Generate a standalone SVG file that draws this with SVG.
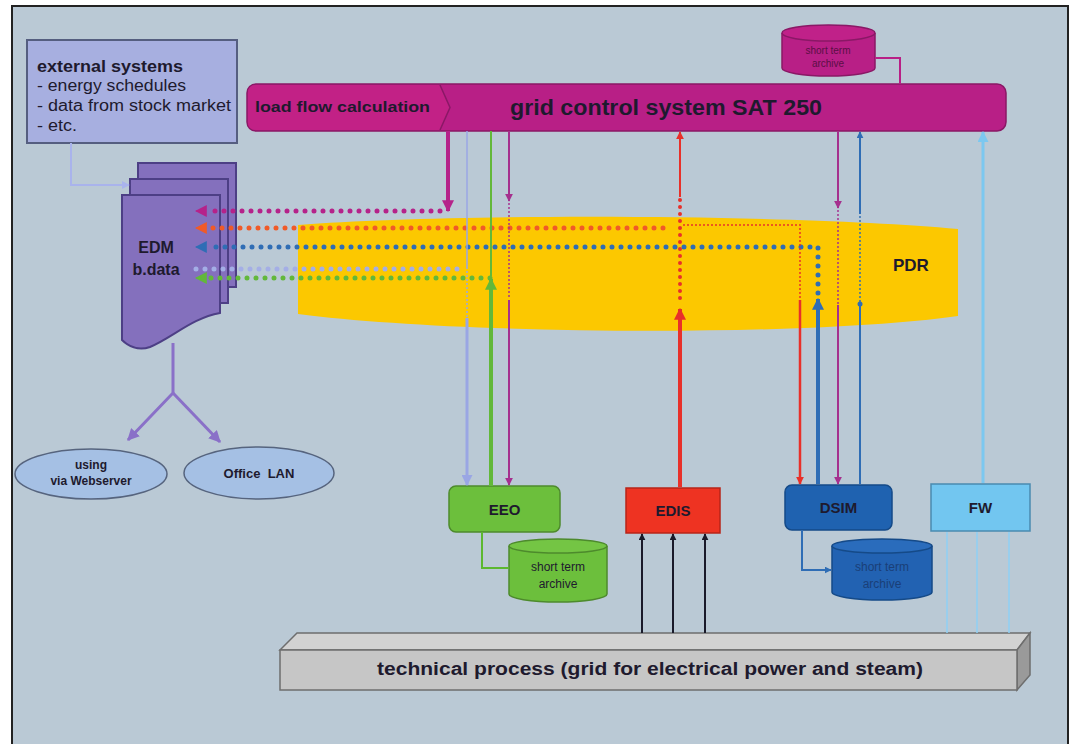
<svg xmlns="http://www.w3.org/2000/svg" width="1074" height="744" viewBox="0 0 1074 744">
<defs>
<style>
text{font-family:"Liberation Sans",Arial,sans-serif;font-weight:bold;fill:#1e1a2e}
.n{font-weight:normal}
.dot{fill:none;stroke-linecap:round;stroke-dasharray:0 9;stroke-width:5}
.fine{fill:none;stroke-linecap:round;stroke-dasharray:0 4;stroke-width:2}
.ln{fill:none}
</style>
<marker id="aMag" viewBox="0 0 10 10" refX="9" refY="5" markerWidth="12" markerHeight="12" markerUnits="userSpaceOnUse" orient="auto"><path d="M0,0 L10,5 L0,10 z" fill="#b5228a"/></marker>
<marker id="aMagS" viewBox="0 0 10 10" refX="9" refY="5" markerWidth="8" markerHeight="8" markerUnits="userSpaceOnUse" orient="auto"><path d="M0,0 L10,5 L0,10 z" fill="#a5308e"/></marker>
<marker id="aOr" viewBox="0 0 10 10" refX="9" refY="5" markerWidth="12" markerHeight="12" markerUnits="userSpaceOnUse" orient="auto"><path d="M0,0 L10,5 L0,10 z" fill="#f05a28"/></marker>
<marker id="aBlu" viewBox="0 0 10 10" refX="9" refY="5" markerWidth="12" markerHeight="12" markerUnits="userSpaceOnUse" orient="auto"><path d="M0,0 L10,5 L0,10 z" fill="#2f6db5"/></marker>
<marker id="aBluS" viewBox="0 0 10 10" refX="9" refY="5" markerWidth="7" markerHeight="7" markerUnits="userSpaceOnUse" orient="auto"><path d="M0,0 L10,5 L0,10 z" fill="#2f6db5"/></marker>
<marker id="aGrn" viewBox="0 0 10 10" refX="9" refY="5" markerWidth="12" markerHeight="12" markerUnits="userSpaceOnUse" orient="auto"><path d="M0,0 L10,5 L0,10 z" fill="#62b83a"/></marker>
<marker id="aLav" viewBox="0 0 10 10" refX="9" refY="5" markerWidth="11" markerHeight="11" markerUnits="userSpaceOnUse" orient="auto"><path d="M0,0 L10,5 L0,10 z" fill="#9aa6e4"/></marker>
<marker id="aRed" viewBox="0 0 10 10" refX="9" refY="5" markerWidth="12" markerHeight="12" markerUnits="userSpaceOnUse" orient="auto"><path d="M0,0 L10,5 L0,10 z" fill="#e8302a"/></marker>
<marker id="aRedS" viewBox="0 0 10 10" refX="9" refY="5" markerWidth="8" markerHeight="8" markerUnits="userSpaceOnUse" orient="auto"><path d="M0,0 L10,5 L0,10 z" fill="#e8302a"/></marker>
<marker id="aLb" viewBox="0 0 10 10" refX="9" refY="5" markerWidth="11" markerHeight="11" markerUnits="userSpaceOnUse" orient="auto"><path d="M0,0 L10,5 L0,10 z" fill="#7cc8f0"/></marker>
<marker id="aBlk" viewBox="0 0 10 10" refX="9" refY="5" markerWidth="7" markerHeight="7" markerUnits="userSpaceOnUse" orient="auto"><path d="M0,0 L10,5 L0,10 z" fill="#1a1a2a"/></marker>
<marker id="aPur" viewBox="0 0 10 10" refX="9" refY="5" markerWidth="12" markerHeight="12" markerUnits="userSpaceOnUse" orient="auto"><path d="M0,0 L10,5 L0,10 z" fill="#8a70c8"/></marker>
<marker id="aPale" viewBox="0 0 10 10" refX="9" refY="5" markerWidth="8" markerHeight="8" markerUnits="userSpaceOnUse" orient="auto"><path d="M0,0 L10,5 L0,10 z" fill="#a9b3ec"/></marker>
</defs>

<rect x="0" y="0" width="1074" height="744" fill="#ffffff"/>
<rect x="12" y="6" width="1056" height="760" fill="#bac9d5" stroke="#222" stroke-width="2"/>

<g id="pdr">
<path d="M298,225 C450,213 800,214 958,229 V316 C800,338 450,334 298,314 Z" fill="#fcc800"/>
<text x="893" y="271" font-size="17">PDR</text>
</g>

<g id="grid-control">
<rect x="247" y="84" width="759" height="47" rx="9" fill="#b81f86" stroke="#8a1866" stroke-width="1.5"/>
<path d="M256,85 H440 L450,107.5 L440,130 H256 Q248,130 248,122 V93 Q248,85 256,85 Z" fill="#c22186"/>
<polyline points="440,85 450,107.5 440,130" fill="none" stroke="#8a1866" stroke-width="1.5"/>
<text x="255" y="112" font-size="15" textLength="175" lengthAdjust="spacingAndGlyphs">load flow calculation</text>
<text x="510" y="115" font-size="22" textLength="312" lengthAdjust="spacingAndGlyphs">grid control system SAT 250</text>
</g>

<g id="archive-top">
<path d="M782,33 V68 A46.5,8 0 0 0 875,68 V33" fill="#b81f86" stroke="#8a1866" stroke-width="1.5"/>
<ellipse cx="828.5" cy="33" rx="46.5" ry="8" fill="#c02189" stroke="#8a1866" stroke-width="1.5"/>
<text x="828" y="54" font-size="10" text-anchor="middle" class="n" style="fill:#5a0f45">short term</text>
<text x="828" y="67" font-size="10" text-anchor="middle" class="n" style="fill:#5a0f45">archive</text>
</g>

<g id="external">
<rect x="27" y="40" width="210" height="103" fill="#a7afe0" stroke="#555e80" stroke-width="2"/>
<text x="37" y="72" font-size="16" textLength="146" lengthAdjust="spacingAndGlyphs">external systems</text>
<text x="37" y="91" font-size="16" class="n" textLength="149" lengthAdjust="spacingAndGlyphs">- energy schedules</text>
<text x="37" y="111" font-size="16" class="n" textLength="194" lengthAdjust="spacingAndGlyphs">- data from stock market</text>
<text x="37" y="131" font-size="16" class="n" textLength="40" lengthAdjust="spacingAndGlyphs">- etc.</text>
</g>

<g id="edm">
<rect x="138" y="163" width="98" height="124" fill="#8470bd" stroke="#4d3f85" stroke-width="2"/>
<rect x="130" y="179" width="98" height="124" fill="#8470bd" stroke="#4d3f85" stroke-width="2"/>
<path d="M122,195 H220 V313 C192,318 172,338 150,347 C138,351 128,346 122,340 Z" fill="#8470bd" stroke="#4d3f85" stroke-width="2"/>
<text x="156" y="253" font-size="16" text-anchor="middle">EDM</text>
<text x="156" y="275" font-size="16" text-anchor="middle">b.data</text>
</g>

<g id="webserver">
<ellipse cx="91" cy="474" rx="76" ry="25" fill="#a5c0e4" stroke="#56647e" stroke-width="1.5"/>
<text x="91" y="469" font-size="12" text-anchor="middle">using</text>
<text x="91" y="485" font-size="12" text-anchor="middle">via Webserver</text>
</g>
<g id="office-lan">
<ellipse cx="259" cy="473" rx="75" ry="26" fill="#a5c0e4" stroke="#56647e" stroke-width="1.5"/>
<text x="259" y="478" font-size="13" text-anchor="middle" xml:space="preserve">Office  LAN</text>
</g>

<g id="eeo">
<rect x="449" y="486" width="111" height="46" rx="7" fill="#6cbf3c" stroke="#4d8a2c" stroke-width="1.5"/>
<text x="504.5" y="515" font-size="15" text-anchor="middle">EEO</text>
</g>
<g id="eeo-archive">
<path d="M509,546 V594 A49,8 0 0 0 607,594 V546" fill="#6cbf3c" stroke="#4d8a2c" stroke-width="1.5"/>
<ellipse cx="558" cy="546" rx="49" ry="7" fill="#74c544" stroke="#4d8a2c" stroke-width="1.5"/>
<text x="558" y="571" font-size="12" text-anchor="middle" class="n">short term</text>
<text x="558" y="588" font-size="12" text-anchor="middle" class="n">archive</text>
</g>

<g id="edis">
<rect x="626" y="488" width="94" height="45" fill="#ee3322" stroke="#b82418" stroke-width="1.5"/>
<text x="673" y="516" font-size="15" text-anchor="middle">EDIS</text>
</g>

<g id="dsim">
<rect x="785" y="485" width="107" height="45" rx="7" fill="#1f62b0" stroke="#154a88" stroke-width="1.5"/>
<text x="838.5" y="513" font-size="15" text-anchor="middle">DSIM</text>
</g>
<g id="dsim-archive">
<path d="M832,546 V592 A50,8 0 0 0 932,592 V546" fill="#2262b2" stroke="#154a88" stroke-width="1.5"/>
<ellipse cx="882" cy="546" rx="50" ry="7" fill="#2a6cbc" stroke="#154a88" stroke-width="1.5"/>
<text x="882" y="571" font-size="12" text-anchor="middle" class="n" style="fill:#1a3f78">short term</text>
<text x="882" y="588" font-size="12" text-anchor="middle" class="n" style="fill:#1a3f78">archive</text>
</g>

<g id="fw">
<rect x="931" y="484" width="99" height="47" fill="#72c6f0" stroke="#4a8ab0" stroke-width="1.5"/>
<text x="980.5" y="513" font-size="15" text-anchor="middle">FW</text>
</g>

<g id="technical-process">
<polygon points="280,650 297,633 1030,633 1017,650" fill="#d2d2d2" stroke="#6e6e6e" stroke-width="1.5"/>
<polygon points="1017,650 1030,633 1030,675 1017,690" fill="#9a9a9a" stroke="#6e6e6e" stroke-width="1.5"/>
<rect x="280" y="650" width="737" height="40" fill="#c6c6c6" stroke="#6e6e6e" stroke-width="1.5"/>
<text x="377" y="675" font-size="18" textLength="546" lengthAdjust="spacingAndGlyphs">technical process (grid for electrical power and steam)</text>
</g>

<g id="connectors">
<path class="ln" d="M71,143 V185 H129" stroke="#a9b3ec" stroke-width="2" marker-end="url(#aPale)"/>
<path class="ln" d="M173,343 V393 L128,440" stroke="#8a70c8" stroke-width="3" marker-end="url(#aPur)"/>
<path class="ln" d="M173,393 L220,442" stroke="#8a70c8" stroke-width="3" marker-end="url(#aPur)"/>

<path class="dot" d="M440,211 H208" stroke="#b5228a"/>
<path class="ln" d="M206,211 H196" stroke="#b5228a" stroke-width="1" marker-end="url(#aMag)"/>
<path class="dot" d="M663,228 H208" stroke="#f05a28"/>
<path class="ln" d="M206,228 H196" stroke="#f05a28" stroke-width="1" marker-end="url(#aOr)"/>
<path class="dot" d="M818,293 V247 H208" stroke="#2f6db5"/>
<path class="ln" d="M206,247 H196" stroke="#2f6db5" stroke-width="1" marker-end="url(#aBlu)"/>
<path class="dot" d="M196,269 H466" stroke="#a4aee6"/>
<path class="dot" d="M490,278 H208" stroke="#62b83a"/>
<path class="ln" d="M206,278 H196" stroke="#62b83a" stroke-width="1" marker-end="url(#aGrn)"/>

<path class="ln" d="M448,131 V211" stroke="#b5228a" stroke-width="4" marker-end="url(#aMag)"/>

<path class="ln" d="M467,131 V269" stroke="#9aa6e4" stroke-width="1.5"/>
<path class="fine" d="M467,272 V318" stroke="#9aa6e4"/>
<path class="ln" d="M467,318 V485" stroke="#9aa6e4" stroke-width="3" marker-end="url(#aLav)"/>
<path class="ln" d="M491,131 V276" stroke="#62b83a" stroke-width="2"/>
<path class="ln" d="M491,486 V279" stroke="#62b83a" stroke-width="4" marker-end="url(#aGrn)"/>
<path class="ln" d="M509,131 V201" stroke="#a5308e" stroke-width="2" marker-end="url(#aMagS)"/>
<path class="fine" d="M509,204 V300" stroke="#a5308e"/>
<path class="ln" d="M509,300 V485" stroke="#a5308e" stroke-width="2" marker-end="url(#aMagS)"/>

<path class="ln" d="M680,197 V132" stroke="#e8302a" stroke-width="2" marker-end="url(#aRedS)"/>
<path class="dot" d="M680,200 V305" stroke="#e8302a" style="stroke-width:4;stroke-dasharray:0 7"/>
<path class="ln" d="M680,487 V309" stroke="#e8302a" stroke-width="4" marker-end="url(#aRed)"/>
<path class="fine" d="M684,225 H800 V300" stroke="#e8302a"/>
<path class="ln" d="M800,300 V484" stroke="#e8302a" stroke-width="2.5" marker-end="url(#aRedS)"/>

<path class="ln" d="M818,484 V299" stroke="#2f6db5" stroke-width="4" marker-end="url(#aBlu)"/>
<path class="ln" d="M838,131 V208" stroke="#a5308e" stroke-width="2" marker-end="url(#aMagS)"/>
<path class="fine" d="M838,211 V305" stroke="#a5308e"/>
<path class="ln" d="M838,305 V484" stroke="#a5308e" stroke-width="2" marker-end="url(#aMagS)"/>
<path class="ln" d="M860,484 V304" stroke="#2f6db5" stroke-width="2"/>
<circle cx="860" cy="304" r="2.5" fill="#2f6db5"/>
<path class="fine" d="M860,301 V216" stroke="#2f6db5"/>
<path class="ln" d="M860,214 V132" stroke="#2f6db5" stroke-width="2" marker-end="url(#aBluS)"/>

<path class="ln" d="M983,483 V132" stroke="#7cc8f0" stroke-width="3" marker-end="url(#aLb)"/>

<path class="ln" d="M482,532 V568 H509" stroke="#5cb830" stroke-width="2"/>
<path class="ln" d="M802,530 V570 H831" stroke="#2f6db5" stroke-width="2" marker-end="url(#aBluS)"/>
<path class="ln" d="M875,58 H900 V84" stroke="#b81f86" stroke-width="2"/>

<path class="ln" d="M642,633 V534" stroke="#1a1a2a" stroke-width="2" marker-end="url(#aBlk)"/>
<path class="ln" d="M673,633 V534" stroke="#1a1a2a" stroke-width="2" marker-end="url(#aBlk)"/>
<path class="ln" d="M705,633 V534" stroke="#1a1a2a" stroke-width="2" marker-end="url(#aBlk)"/>
<path class="ln" d="M947,633 V532" stroke="#8ecff5" stroke-width="1.5"/>
<path class="ln" d="M977,633 V532" stroke="#8ecff5" stroke-width="1.5"/>
<path class="ln" d="M1009,633 V532" stroke="#8ecff5" stroke-width="1.5"/>
</g>
</svg>
